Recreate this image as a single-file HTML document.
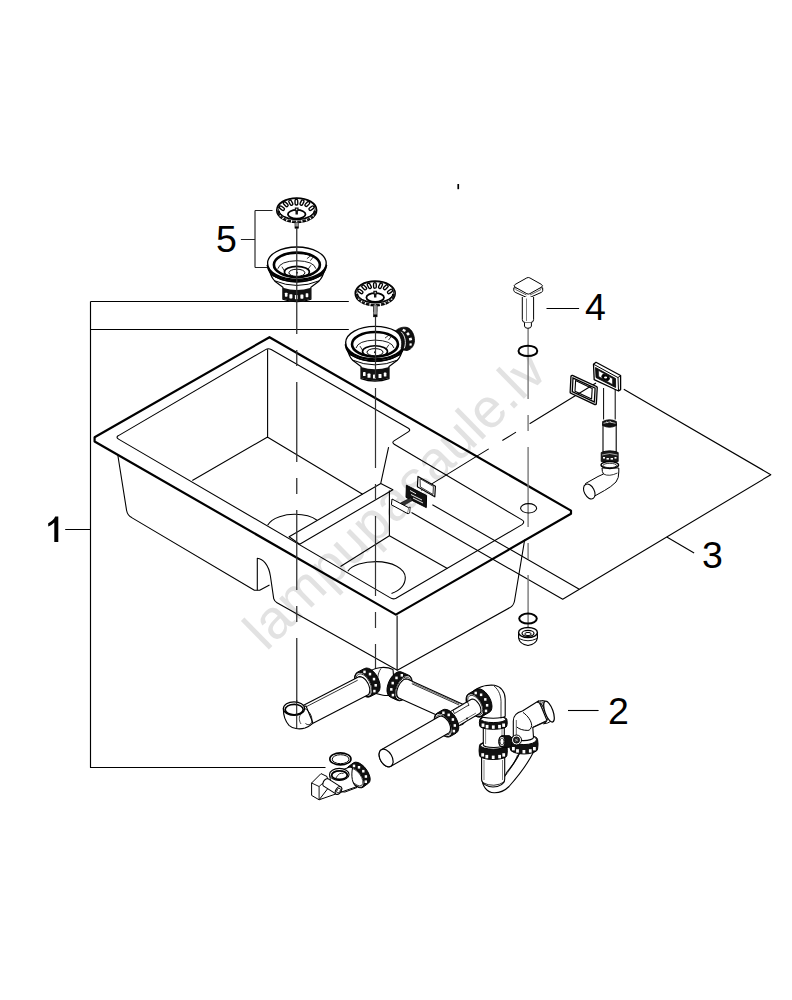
<!DOCTYPE html>
<html><head><meta charset="utf-8"><style>
html,body{margin:0;padding:0;background:#fff;}
body{width:792px;height:1000px;overflow:hidden;position:relative;}
svg{position:absolute;left:0;top:0;}
.t{font-family:"Liberation Sans",sans-serif;font-size:37.5px;fill:#000;}
.wm{font-family:"Liberation Sans",sans-serif;font-size:55px;fill:#e2e2e2;}
</style></head><body>
<svg width="792" height="1000" viewBox="0 0 792 1000">
<defs>
<g id="basket">
<ellipse cx="0" cy="0" rx="20" ry="12.3" fill="#fff" stroke="#000" stroke-width="1.5"/>
<path d="M-19.7 0A19.7 11.9 0 0 0 19.7 0L17.8 0.8A17.8 9.6 0 0 1 -17.8 0.8Z" fill="#111"/>
<rect x="14.29" y="4.77" width="3" height="1.1" transform="rotate(211.5 15.79 5.32)" fill="#fff"/>
<rect x="11.93" y="7.22" width="3" height="1.1" transform="rotate(233.9 13.43 7.77)" fill="#fff"/>
<rect x="8.26" y="9.17" width="3" height="1.1" transform="rotate(248.9 9.76 9.72)" fill="#fff"/>
<rect x="3.63" y="10.42" width="3" height="1.1" transform="rotate(260.2 5.13 10.97)" fill="#fff"/>
<rect x="-1.50" y="10.85" width="3" height="1.1" transform="rotate(270.0 0.00 11.40)" fill="#fff"/>
<rect x="-6.63" y="10.42" width="3" height="1.1" transform="rotate(-80.2 -5.13 10.97)" fill="#fff"/>
<rect x="-11.26" y="9.17" width="3" height="1.1" transform="rotate(-68.9 -9.76 9.72)" fill="#fff"/>
<rect x="-14.93" y="7.22" width="3" height="1.1" transform="rotate(-53.9 -13.43 7.77)" fill="#fff"/>
<rect x="-17.29" y="4.77" width="3" height="1.1" transform="rotate(-31.5 -15.79 5.32)" fill="#fff"/>
<path d="M-17.5 0.5A17.5 9 0 0 0 17.5 0.5" fill="none" stroke="#000" stroke-width="1.2"/>
<ellipse cx="0" cy="-1.4" rx="18.6" ry="10.4" fill="none" stroke="#000" stroke-width="0.9"/>
<rect x="-16.15" y="-4.80" width="2.7" height="5.6" rx="1.3" transform="rotate(-53.6 -14.80 -2.00)" fill="#fff" stroke="#000" stroke-width="1.35"/>
<rect x="-12.35" y="-8.81" width="2.7" height="5.6" rx="1.3" transform="rotate(-45.2 -11.00 -6.01)" fill="#fff" stroke="#000" stroke-width="1.35"/>
<rect x="-7.25" y="-10.30" width="2.7" height="5.6" rx="1.3" transform="rotate(-28.4 -5.90 -7.50)" fill="#fff" stroke="#000" stroke-width="1.35"/>
<rect x="-1.65" y="-10.80" width="2.7" height="5.6" rx="1.3" transform="rotate(-1.6 -0.30 -8.00)" fill="#fff" stroke="#000" stroke-width="1.35"/>
<rect x="3.95" y="-10.40" width="2.7" height="5.6" rx="1.3" transform="rotate(25.9 5.30 -7.60)" fill="#fff" stroke="#000" stroke-width="1.35"/>
<rect x="9.25" y="-8.99" width="2.7" height="5.6" rx="1.3" transform="rotate(44.2 10.60 -6.19)" fill="#fff" stroke="#000" stroke-width="1.35"/>
<rect x="13.45" y="-4.80" width="2.7" height="5.6" rx="1.3" transform="rotate(53.6 14.80 -2.00)" fill="#fff" stroke="#000" stroke-width="1.35"/>
<ellipse cx="0" cy="4.1" rx="8.8" ry="4.4" fill="#fff" stroke="#000" stroke-width="1.8"/>
<path d="M-1.9 -2.6h3.8v3.2l-0.7 0.8v2.8h-2.4v-2.8l-0.7-0.8z" fill="#111"/>
<rect x="-0.5" y="-1.5" width="1" height="1.5" fill="#fff"/>
<rect x="-1.75" y="12.2" width="3.5" height="5.8" fill="#999" stroke="#222" stroke-width="0.6"/>
<rect x="-1.75" y="16.3" width="3.5" height="1.8" fill="#000"/>
</g>
<g id="drainbody">
<path d="M-27.5 7Q-26 14 -22 18L-14 24V36Q0 41 14 36V24L22 18Q26 14 27.5 7Z" fill="#fff" stroke="#000" stroke-width="1.2"/>
<path d="M-14 24.5V35.5Q0 41 14 35.5V24.5Q0 29 -14 24.5Z" fill="#111"/>
<g fill="#fff"><rect x="-12" y="29.5" width="2.6" height="4" rx="0.6"/><rect x="-7.5" y="31" width="3" height="4.2" rx="0.6"/><rect x="-2" y="31.8" width="3" height="4.2" rx="0.6"/><rect x="3.5" y="31.3" width="3" height="4.2" rx="0.6"/><rect x="8.8" y="30" width="2.6" height="4" rx="0.6"/></g>
<path d="M-22.5 17.5Q0 27 22.5 17.5" fill="none" stroke="#000" stroke-width="1"/>
<path d="M-26 12Q0 24 26 12" fill="none" stroke="#000" stroke-width="1"/>
<ellipse cx="0" cy="2.6" rx="29.3" ry="16.2" fill="#fff" stroke="#000" stroke-width="1.3"/>
<path d="M-29.2 1.6A29.3 16.4 0 0 0 29.2 1.6" fill="none" stroke="#000" stroke-width="2.6"/>
<path d="M-28.5 5.5A28.8 15 0 0 0 28.5 5.5" fill="none" stroke="#000" stroke-width="1.4"/>
<ellipse cx="0" cy="0" rx="29.3" ry="16.2" fill="#fff" stroke="#000" stroke-width="1.3"/>
<ellipse cx="0" cy="1.6" rx="23" ry="12.2" fill="none" stroke="#000" stroke-width="2.6"/>
<path d="M-19 5.5Q-17 -2 0 -2.5Q17 -2 19 5.5" fill="none" stroke="#000" stroke-width="0.9"/>
<ellipse cx="0" cy="8.8" rx="12.5" ry="5.6" fill="none" stroke="#000" stroke-width="1.6"/>
<ellipse cx="0" cy="9.6" rx="8" ry="3.6" fill="#fff" stroke="#000" stroke-width="1"/>
<path d="M-15 3.5l3 5M14 2l-3.5 5" stroke="#000" stroke-width="0.8"/>
<path d="M10 -4.5l4.5 -3.5l2 1.5l-3 4" fill="none" stroke="#000" stroke-width="0.8"/>
<circle cx="0" cy="9.6" r="1" fill="#000"/>
</g>
</defs>
<g id="watermark">
<text class="wm" transform="translate(266.2,652) rotate(-44.5)">lampupasaule.lv</text>
</g>
<g fill="none" stroke="#000" stroke-width="1.1" stroke-linejoin="round" stroke-linecap="butt">
<!-- brackets and labels -->
<path d="M255 210.5V267.5" stroke="#000" stroke-width="1"/><path d="M255 210.5H272.5M255 267.5H267.6M240.9 239.5H255" stroke="#222" stroke-width="1.1"/>
<path d="M90.5 301.5V767.5H325.5M90.5 301.5H348.8M90.5 329.5H348.8M65.2 529.5H90.5" stroke-width="1.15"/>
<path d="M546.5 308.5H579.1"/>
<path d="M568 710.5H598.6"/>
<path d="M666.8 537L694.1 553"/>
<path d="M457.4 184h1.7v5.2h-1.7z" fill="#000" stroke="none"/>
<path d="M58.3 516.5H55.2C54 519.5 51 522 48.2 523.3V526.4C50.6 525.4 53 523.9 54.3 522.4V542H58.3Z" fill="#000" stroke="none"/>
<!-- bracket 3 -->
<path d="M623.8 389.2L770.8 474.7L562.7 599.3L411.5 512.4M579.3 589.3L432.4 504.7"/>
<!-- sink outer rim -->
<path d="M269.5 337.2L571 510.6V513.8L395.8 614.6L94.6 441.5V437.3Z" stroke-width="2.2"/>
<!-- inner rim -->
<path d="M118.5 435.6L265.6 349.6Q268.4 348 271.2 349.6L408.4 428.3Q411 430 408.6 431.6L394 440.9Q391.6 442.6 394.2 444.2L522 519.9Q525.5 521.9 522 524.6L396 598.2Q393 599.7 390 597.6L118.5 439.1Q115.5 437.3 118.5 435.6Z"/>
<!-- bowl1 interior -->
<path d="M267.6 349.3V437L192.3 480.6M267.3 437L362.6 494.2M388.6 447.1L380.8 483.2"/>
<!-- divider -->
<path d="M289.1 536.7L380.8 483.6L392.9 489.7L299.7 544.2Z"/>
<!-- bowl2 interior -->
<path d="M389.4 490.5V535.8L340.5 566.5M389.4 535.8L447.4 568.4"/>
<!-- drains -->
<path d="M267.6 525.3C272 517 286 514.2 295 514.3C304 514.4 312 516.5 317 520.3"/>
<path d="M347.8 571.2C352 565 364 561.6 376.3 561.6C392 561.6 405.3 568.5 405.3 577.6C405.3 585 399.5 590.6 391.5 593.6"/>
<!-- bowl front face -->
<path d="M117.8 455L126.6 510.5Q127.6 515.5 131.7 517.6L254.4 590.2H259.7L269.5 585"/>
<path d="M257.3 590.2V558.2C263 558.8 268.7 565 270.4 576L273.7 598.6Q274.5 601.3 277 602.7L397.3 670.3L510 607.6Q513.7 605.4 514.5 601L524.7 539.5"/>
<path d="M397.1 615.5V670.3"/>
<!-- left corner rim thickness -->

</g>
<!-- strainers -->
<use href="#basket" x="296.7" y="210.2"/>
<use href="#basket" x="375.2" y="293.4"/>
<use href="#drainbody" x="296.9" y="263.2"/>
<use href="#drainbody" x="375" y="342.6"/>
<!-- axes -->
<g fill="none" stroke-width="1.1">
<path d="M296.75 228V334" stroke="#333" stroke-width="1.3"/>
<path d="M296.75 350V728" stroke="#333" stroke-width="1.3" stroke-dasharray="16 16 80 16"/>
<path d="M375.5 316V378" stroke="#333" stroke-width="1.2"/>
<path d="M375.5 388V676" stroke="#333" stroke-width="1.2" stroke-dasharray="80 16 16 16"/>
<path d="M528.1 328V646" stroke="#7a7a7a" stroke-width="1.4" stroke-dasharray="71 16 16 16 80 16 16 16 80 16 16 16 80"/>
</g>
<!-- basket2 longer stem -->
<rect x="373.5" y="305" width="3.6" height="11.8" fill="#999" stroke="#222" stroke-width="0.6"/>
<rect x="373.5" y="314.5" width="3.6" height="2.3" fill="#000"/>
<!-- drain2 overflow nozzle -->
<g>
<path d="M395.5 331C398.5 327.8 403.5 326.4 407.5 327.6C411.8 329.2 414.6 335 414.5 340.6C414.4 345.2 411.6 349.6 407 350.5C404.8 350.8 402.6 349.6 401 348.3C403 343 401 335 395.5 331Z" fill="#111" stroke="#000" stroke-width="0.8"/>
<path d="M401.2 331.8C405 335.5 406.6 342.5 404.3 348.3" fill="none" stroke="#fff" stroke-width="0.9"/>
<g fill="#fff">
<rect x="402.6" y="329.2" width="3" height="2.2" transform="rotate(25 404.1 330.3)"/>
<rect x="406.6" y="332.6" width="2.8" height="2.6" transform="rotate(50 408 333.9)"/>
<rect x="409.2" y="337.8" width="2.6" height="2.8" transform="rotate(75 410.5 339.2)"/>
<rect x="409.4" y="343.4" width="2.4" height="2.2" transform="rotate(100 410.6 344.5)"/>
</g>
</g>
<!-- button 4 -->
<g stroke="#000" stroke-width="1" fill="#fff">
<path d="M513.8 287.8L513.8 290.6Q514 291.6 515.2 292.3L526.5 297.4Q528.3 298.2 530.1 297.4L541.5 292.3Q542.7 291.6 542.7 290.6L542.7 287.8Z"/>
<path d="M526.8 277.9Q528.3 277.1 529.8 277.9L541.4 284.4Q543.6 285.8 541.4 287.2L529.8 293.7Q528.3 294.5 526.8 293.7L515.2 287.2Q513 285.8 515.2 284.4Z"/>
<path d="M515.5 289.5L526.5 295M530 295L541 289.5" stroke-width="0.6"/>
<path d="M522.3 297V319.5Q522.3 322.3 525 322.5H531Q533.6 322.3 533.6 319.5V297" />
<path d="M524.5 322.5V326Q524.6 328.2 527.9 328.3Q531.3 328.2 531.4 326V322.5"/>
<path d="M526.5 298.5V321" stroke-width="0.5"/>
</g>
<!-- O-rings -->
<ellipse cx="527.9" cy="350.9" rx="9.4" ry="5.2" fill="none" stroke="#000" stroke-width="2"/>
<ellipse cx="528" cy="618.6" rx="8.8" ry="5" fill="none" stroke="#000" stroke-width="2"/>
<g fill="none" stroke="#000">
<ellipse cx="340.4" cy="758.9" rx="10.6" ry="6" stroke-width="1.6"/>
<ellipse cx="340.6" cy="759.2" rx="8.4" ry="4.5" stroke-width="1"/>
</g>
<!-- nut bottom of axis 3 -->
<g stroke="#000" fill="#fff">
<path d="M518.6 632V638Q519.5 644 528 645.5Q536.5 644 537.4 638V632" stroke-width="1.2"/>
<ellipse cx="528" cy="632.5" rx="9.4" ry="5" stroke-width="1.4"/>
<ellipse cx="528" cy="633.3" rx="6" ry="3" stroke-width="1.2"/>
<ellipse cx="528" cy="634" rx="3.2" ry="1.6" stroke-width="1"/>
<path d="M519 638.5Q528 643 537 638.5" fill="none" stroke-width="0.9"/>
</g>
<path d="M596 383L421.2 490.4" fill="none" stroke="#000" stroke-width="1.05" stroke-dasharray="77.9 16 16 16 80"/>
<!-- overflow head (top right) -->
<g stroke="#000" stroke-linejoin="round">
<path d="M603.6 388V419.5M615.2 388V419.5" fill="none" stroke-width="1"/>
<path d="M593.5 364.2L596 362.3L620.6 375.5L620.6 389.6L618.5 391L594.2 379.6Z" fill="#fff" stroke-width="1.3"/>
<path d="M593.5 364.2L618 377.6L618.5 391M618 377.6L620.6 375.5" fill="none" stroke-width="1"/>
<path d="M595.5 367.5L615.5 378.5L615.6 387.5L596 377.5Z" fill="#111" stroke-width="0.8"/>
<path d="M598.5 370.5L612.5 378.5L612.5 384.5L598.7 376.5Z" fill="#fff" stroke-width="0.5"/>
<ellipse cx="605.6" cy="377.5" rx="4" ry="2.2" transform="rotate(28 605.6 377.5)" fill="#000"/>
<ellipse cx="605.6" cy="377.5" rx="1.6" ry="1" fill="#fff" stroke="none"/>
</g>
<!-- overflow gasket -->
<g fill="none" stroke="#000" stroke-linejoin="round">
<path d="M572 376.4L596.2 387.5L595.3 403.6L571.2 392.3Z" stroke-width="3.4"/>
<path d="M572 376.4L596.2 387.5L595.3 403.6L571.2 392.3Z" stroke="#fff" stroke-width="0.8"/>
<path d="M575.6 380.6L592.2 388.4L591.6 399L575 391.2Z" stroke-width="1.1"/>
</g>
<!-- overflow pipe -->
<g stroke="#000">
<rect x="603" y="424" width="13.2" height="28" fill="#fff" stroke-width="1.1"/>
<path d="M602.6 421.5Q609.5 418 616.4 421.5V425.5Q609.5 429 602.6 425.5Z" fill="#111" stroke-width="0.8"/>
<path d="M603.5 423.3Q609.5 420.5 615.5 423.3" fill="none" stroke="#fff" stroke-width="0.7"/>
<path d="M606 421.5l2 1.5M610 420.8l1.5 1.8" stroke="#fff" stroke-width="0.6"/>
<path d="M601.2 452.5Q609.6 449 618.2 452.5V461.5Q609.6 465 601.2 461.5Z" fill="#1a1a1a" stroke-width="0.8"/>
<path d="M602 455Q609.6 452 617.5 455" fill="none" stroke="#fff" stroke-width="0.6"/>
<g fill="#fff" stroke="none"><rect x="603" y="457" width="2" height="1.6"/><rect x="606.5" y="458" width="2.4" height="1.6"/><rect x="610.6" y="458" width="2.4" height="1.6"/><rect x="614.5" y="457" width="2" height="1.6"/></g>
<path d="M602 468Q602 472 603.5 474L598 476.5L585.5 483.5L592 497.5L604.5 490.5Q611 487 616 482Q619 478 618.8 472V468Z" fill="#fff" stroke-width="1"/>
<path d="M603.5 474Q609 477 617.5 473" fill="none" stroke="#000" stroke-width="0.8"/>
<ellipse cx="609.8" cy="465" rx="8.8" ry="3.4" fill="#fff" stroke-width="1.5"/>
<ellipse cx="609.8" cy="465.5" rx="6.8" ry="2.2" fill="none" stroke-width="0.8"/>
<ellipse cx="589.3" cy="491.5" rx="5" ry="8" transform="rotate(-28 589.3 491.5)" fill="#fff" stroke-width="1.1"/>
</g>
<!-- small overflow parts in sink -->
<g stroke="#000" stroke-linejoin="round">
<path d="M418 476.4L435.4 486.2L434.8 496.8L417.4 486.8Z" fill="#fff" stroke-width="1.2"/>
<path d="M420 478.6L433.4 486.4L433 494.5L420.3 486.9Z" fill="none" stroke-width="0.8"/>
<path d="M406.4 485.2L426.6 495.5L426.3 507.6L406 497.4Z" fill="#111" stroke-width="1"/>
<path d="M410 490.5L416 493.8M411 494.5L422 500M413 498L423 503" stroke="#fff" stroke-width="0.9"/>
<path d="M399.5 503.6L411 497.5L412.5 500.5L401.5 506.6Z" fill="#333" stroke-width="0.6"/>
<path d="M392 499L408.6 507.7L408 513.8L391.4 504.8Z" fill="#fff" stroke-width="1"/>
<path d="M408.6 507.7L410.2 507L409.7 513L408 513.8" fill="#fff" stroke-width="0.8"/>
</g>
<!-- dashed line from gasket -->

<!-- tap hole -->
<ellipse cx="528.6" cy="508.3" rx="8" ry="4.7" fill="none" stroke="#000" stroke-width="1.1"/>
<g stroke-linejoin="round">
<path d="M368 673C373 667.5 385 665.5 393 669.5L395 694C388 697 378 695.5 371 691Z" fill="#fff" stroke="#000" stroke-width="1.1"/>
<path d="M381 668.5C377.5 673 376.5 681 379 690" fill="none" stroke="#000" stroke-width="0.8"/>
<path d="M370.1 696.7 L377.2 693.0 L378.7 691.7 L379.7 689.6 L380.1 687.0 L379.9 683.9 L379.0 680.6 L377.6 677.3 L375.7 674.2 L373.5 671.6 L371.1 669.6 L368.7 668.4 L366.5 668.0 L364.5 668.5 L357.4 672.2 L355.9 673.5 L354.9 675.6 L354.5 678.2 L354.7 681.3 L355.6 684.6 L357.0 687.9 L358.9 691.0 L361.1 693.6 L363.5 695.6 L365.9 696.8 L368.1 697.2 L370.1 696.7Z" fill="#111" stroke="#000" stroke-width="1.0" />
<ellipse cx="363.7" cy="684.4" rx="13.10" ry="7.21" transform="rotate(-117.3 363.7 684.4)" fill="#fff" stroke="#000" stroke-width="1.0"/>
<ellipse cx="363.7" cy="684.4" rx="11.50" ry="6.33" transform="rotate(-117.3 363.7 684.4)" fill="none" stroke="#000" stroke-width="0.7"/>
<rect x="373.2" y="689.8" width="2.4" height="2.6" fill="#fff"/>
<rect x="374.5" y="684.0" width="2.4" height="2.6" fill="#fff"/>
<rect x="372.8" y="677.8" width="2.4" height="2.6" fill="#fff"/>
<rect x="368.8" y="672.8" width="2.4" height="2.6" fill="#fff"/>
<rect x="363.3" y="670.6" width="2.4" height="2.6" fill="#fff"/>
<path d="M306.7 726.6 L367.7 695.1 L368.8 694.1 L369.5 692.6 L369.8 690.6 L369.7 688.3 L369.0 685.9 L368.0 683.4 L366.6 681.2 L365.0 679.2 L363.2 677.8 L361.4 676.9 L359.8 676.6 L358.3 676.9 L297.3 708.4 L296.2 709.4 L295.5 710.9 L295.2 712.9 L295.3 715.2 L296.0 717.6 L297.0 720.1 L298.4 722.3 L300.0 724.3 L301.8 725.7 L303.6 726.6 L305.2 726.9 L306.7 726.6Z" fill="#fff" stroke="#000" stroke-width="1.1" />
<path d="M303.8 708.0L357.7 680.2" stroke="#000" stroke-width="0.8" fill="none"/>
<path d="M283.3 708.6C283.3 715 285 721 289 725.3C292.5 728.5 299 729.8 305 728C309 726.5 312 724.5 312.8 722.5L306 706Z" fill="#fff" stroke="#000" stroke-width="1.1"/>
<path d="M304.8 708.5C309.5 711 312.5 716.5 311.8 721.5C311 725 308 725.5 305.5 723.5" fill="none" stroke="#000" stroke-width="0.9"/>
<path d="M301 714C299 716 298.5 720 301 724" fill="none" stroke="#000" stroke-width="0.7"/>
<ellipse cx="294" cy="708.6" rx="10.6" ry="6.8" fill="#fff" stroke="#000" stroke-width="1.2"/>
<ellipse cx="294.2" cy="709.6" rx="9" ry="5.2" fill="none" stroke="#000" stroke-width="1.6"/>
<path d="M284 711.5Q294 718 304.3 711.5" fill="none" stroke="#000" stroke-width="0.8"/>
<path d="M390.3 697.1 L397.6 700.4 L399.5 700.8 L401.8 700.3 L404.1 698.9 L406.4 696.8 L408.5 694.1 L410.2 691.0 L411.4 687.6 L412.1 684.3 L412.2 681.2 L411.6 678.5 L410.5 676.5 L408.9 675.3 L401.6 672.0 L399.7 671.6 L397.4 672.1 L395.1 673.5 L392.8 675.6 L390.7 678.3 L389.0 681.4 L387.8 684.8 L387.1 688.1 L387.0 691.2 L387.6 693.9 L388.7 695.9 L390.3 697.1Z" fill="#111" stroke="#000" stroke-width="1.0" />
<ellipse cx="403.2" cy="687.8" rx="13.10" ry="7.21" transform="rotate(-65.7 403.2 687.8)" fill="#fff" stroke="#000" stroke-width="1.0"/>
<ellipse cx="403.2" cy="687.8" rx="11.50" ry="6.33" transform="rotate(-65.7 403.2 687.8)" fill="none" stroke="#000" stroke-width="0.7"/>
<rect x="391.7" y="693.8" width="2.4" height="2.6" fill="#fff"/>
<rect x="390.1" y="688.1" width="2.4" height="2.6" fill="#fff"/>
<rect x="391.5" y="681.8" width="2.4" height="2.6" fill="#fff"/>
<rect x="395.3" y="676.6" width="2.4" height="2.6" fill="#fff"/>
<rect x="400.6" y="674.0" width="2.4" height="2.6" fill="#fff"/>
<path d="M398.8 697.9 L458.8 725.0 L460.1 725.2 L461.7 724.8 L463.3 723.7 L464.9 722.1 L466.4 720.1 L467.7 717.7 L468.6 715.2 L469.2 712.7 L469.3 710.5 L469.0 708.5 L468.3 707.1 L467.2 706.2 L407.2 679.1 L405.9 678.9 L404.3 679.3 L402.7 680.4 L401.1 682.0 L399.6 684.0 L398.3 686.4 L397.4 688.9 L396.8 691.4 L396.7 693.6 L397.0 695.6 L397.7 697.0 L398.8 697.9Z" fill="#fff" stroke="#000" stroke-width="1.1" />
<path d="M411.8 683.7L459.0 705.0" stroke="#000" stroke-width="0.8" fill="none"/>
<path d="M412.3 682.6L459.5 703.9" stroke="#000" stroke-width="0.6" fill="none"/>
<path d="M482 778C482 786 487 792.5 494 792.8C500 793 505 790.5 509 786.5C517 777.5 527 765 533.5 752L521 750C518 758 513 765 507 772L505 776Z" fill="#fff" stroke="#000" stroke-width="1.1"/>
<path d="M506 775C511 768 516 761 520 752.5M508 771C513 765 516 760 518.5 754M510 768C514 763 516 759 517.5 755" fill="none" stroke="#000" stroke-width="0.6"/>
<path d="M510.2 739.6 A13.7 5 0 0 1 537.6 739.6 Q538.5 744.3 537.6 749.0 A13.7 5 0 0 1 510.2 749.0 Q509.3 744.3 510.2 739.6Z" fill="#111" stroke="#000" stroke-width="1"/>
<ellipse cx="523.9" cy="739.6" rx="12.6" ry="5.0" fill="#fff" stroke="#000" stroke-width="1"/>
<rect x="512.0" y="747.0" width="2.8" height="3.4" fill="#fff"/>
<rect x="516.1" y="749.2" width="2.8" height="3.4" fill="#fff"/>
<rect x="522.5" y="750.0" width="2.8" height="3.4" fill="#fff"/>
<rect x="528.9" y="749.2" width="2.8" height="3.4" fill="#fff"/>
<rect x="533.0" y="747.0" width="2.8" height="3.4" fill="#fff"/>
<path d="M513.3 737.2V721C513.3 716 516.5 712.5 522.4 711L538.8 700.8L547.2 721L532.8 727.5L533.5 737.2A10.1 3.4 0 0 1 513.3 737.2Z" fill="#fff" stroke="#000" stroke-width="1.1"/>
<path d="M523 712.4C528 716 531.5 721 531.7 725.6C531 729 529.5 730.5 527.9 730.4C523 730.5 519 729 516.8 727" fill="none" stroke="#000" stroke-width="1"/>
<path d="M532.6 727.3L546 720.8" fill="none" stroke="#000" stroke-width="0.8"/>
<path d="M537.2 702.2C540 700.3 543.5 700 545.5 701.3L552 713C553.3 717 552 721.5 547.5 723L543.5 723.8C547.5 722 548.5 718 547.3 714L541 703.5Z" fill="#fff" stroke="#000" stroke-width="1"/>
<path d="M538.5 701.6L544.6 712.5M540 701L546.2 712M541.4 700.7L547.6 711.6M542.8 700.6L548.8 711.2" stroke="#222" stroke-width="0.7" fill="none"/>
<ellipse cx="549" cy="711.6" rx="4" ry="11" transform="rotate(-20 549 711.6)" fill="#fff" stroke="#000" stroke-width="1.2"/>
<path d="M516.3 740V720" fill="none" stroke="#000" stroke-width="0.6"/>
<path d="M481.6 756V779C481.6 784 488 787 493 787C499 787 504.7 784 504.7 779V756Z" fill="#fff" stroke="#000" stroke-width="1.1"/>
<path d="M484 760V780M502.5 760V780" stroke="#000" stroke-width="0.5"/>
<path d="M482.5 782.5Q494 788.5 505 781.5" fill="none" stroke="#000" stroke-width="0.8"/>
<path d="M479.5 745.4 A13.7 4 0 0 1 506.9 745.4 Q507.8 750.5 506.9 755.5 A13.7 4 0 0 1 479.5 755.5 Q478.6 750.5 479.5 745.4Z" fill="#111" stroke="#000" stroke-width="1"/>
<ellipse cx="493.2" cy="745.4" rx="12.6" ry="3.8" fill="#fff" stroke="#000" stroke-width="1"/>
<rect x="481.3" y="753.2" width="2.8" height="3.4" fill="#fff"/>
<rect x="485.4" y="754.9" width="2.8" height="3.4" fill="#fff"/>
<rect x="491.8" y="755.6" width="2.8" height="3.4" fill="#fff"/>
<rect x="498.2" y="754.9" width="2.8" height="3.4" fill="#fff"/>
<rect x="502.3" y="753.2" width="2.8" height="3.4" fill="#fff"/>
<path d="M483.3 727V745A10.5 2.5 0 0 0 504.3 745V727Z" fill="#fff" stroke="#000" stroke-width="1.1"/>
<path d="M485.6 729V744M502 729V744" stroke="#000" stroke-width="0.5"/>
<path d="M479.8 719.3 A13.5 3.3 0 0 1 506.8 719.3 Q507.7 722.6 506.8 726.0 A13.5 3.3 0 0 1 479.8 726.0 Q478.9 722.6 479.8 719.3Z" fill="#111" stroke="#000" stroke-width="1"/>
<ellipse cx="493.3" cy="719.3" rx="12.4" ry="3.3" fill="#fff" stroke="#000" stroke-width="1"/>
<rect x="481.6" y="723.5" width="2.8" height="3.4" fill="#fff"/>
<rect x="485.7" y="724.9" width="2.8" height="3.4" fill="#fff"/>
<rect x="491.9" y="725.4" width="2.8" height="3.4" fill="#fff"/>
<rect x="498.1" y="724.9" width="2.8" height="3.4" fill="#fff"/>
<rect x="502.2" y="723.5" width="2.8" height="3.4" fill="#fff"/>
<path d="M470 695C476 687 486 684.5 494.5 685.3C501 686.5 505.2 692 505.2 699V716A11.9 2.2 0 0 1 481.3 716V712L474.5 707Z" fill="#fff" stroke="#000" stroke-width="1.1"/>
<path d="M494 686C499 690 501.5 696 501 705V718.5" fill="none" stroke="#000" stroke-width="0.8"/>
<path d="M481.7 716.7 L489.5 712.2 L490.9 710.9 L491.7 708.9 L492.0 706.3 L491.6 703.3 L490.7 700.2 L489.2 697.1 L487.3 694.3 L485.1 691.9 L482.7 690.1 L480.4 689.0 L478.2 688.8 L476.3 689.3 L468.5 693.8 L467.1 695.1 L466.3 697.1 L466.0 699.7 L466.4 702.7 L467.3 705.8 L468.8 708.9 L470.7 711.7 L472.9 714.1 L475.3 715.9 L477.6 717.0 L479.8 717.2 L481.7 716.7Z" fill="#111" stroke="#000" stroke-width="1.0" />
<ellipse cx="475.1" cy="705.2" rx="12.50" ry="6.88" transform="rotate(-119.9 475.1 705.2)" fill="#fff" stroke="#000" stroke-width="1.0"/>
<ellipse cx="475.1" cy="705.2" rx="10.90" ry="6.00" transform="rotate(-119.9 475.1 705.2)" fill="none" stroke="#000" stroke-width="0.7"/>
<rect x="484.8" y="709.6" width="2.4" height="2.6" fill="#fff"/>
<rect x="485.9" y="704.0" width="2.4" height="2.6" fill="#fff"/>
<rect x="484.1" y="698.1" width="2.4" height="2.6" fill="#fff"/>
<rect x="479.9" y="693.5" width="2.4" height="2.6" fill="#fff"/>
<rect x="474.5" y="691.7" width="2.4" height="2.6" fill="#fff"/>
<path d="M452.1 729.6 L479.6 713.5 L480.4 712.7 L480.9 711.5 L480.9 709.9 L480.6 708.1 L480.0 706.2 L479.0 704.3 L477.8 702.6 L476.5 701.1 L475.1 699.9 L473.7 699.2 L472.4 699.0 L471.4 699.3 L443.9 715.4 L443.1 716.2 L442.6 717.4 L442.6 719.0 L442.9 720.8 L443.5 722.7 L444.5 724.6 L445.7 726.3 L447.0 727.8 L448.4 729.0 L449.8 729.7 L451.1 729.9 L452.1 729.6Z" fill="#fff" stroke="#000" stroke-width="1.1" />
<path d="M453.6 726.2L475.9 713.1" stroke="#000" stroke-width="0.6" fill="none"/>
<path d="M453 710.5L465.5 703L467.5 702L469 705.3L467 706L454.5 713.5Z" fill="#fff" stroke="#000" stroke-width="0.8"/>
<circle cx="467" cy="718.5" r="0.9" fill="#000"/>
<path d="M450.1 736.6 L456.2 733.1 L457.6 731.7 L458.5 729.7 L458.8 727.1 L458.4 724.1 L457.4 720.9 L455.9 717.8 L454.0 714.9 L451.7 712.5 L449.3 710.6 L446.9 709.6 L444.7 709.3 L442.9 709.8 L436.8 713.3 L435.4 714.7 L434.5 716.7 L434.2 719.3 L434.6 722.3 L435.6 725.5 L437.1 728.6 L439.0 731.5 L441.3 733.9 L443.7 735.8 L446.1 736.8 L448.3 737.1 L450.1 736.6Z" fill="#111" stroke="#000" stroke-width="1.0" />
<ellipse cx="443.5" cy="724.9" rx="12.70" ry="6.99" transform="rotate(-119.9 443.5 724.9)" fill="#fff" stroke="#000" stroke-width="1.0"/>
<ellipse cx="443.5" cy="724.9" rx="11.10" ry="6.11" transform="rotate(-119.9 443.5 724.9)" fill="none" stroke="#000" stroke-width="0.7"/>
<rect x="452.7" y="729.8" width="2.4" height="2.6" fill="#fff"/>
<rect x="453.6" y="724.2" width="2.4" height="2.6" fill="#fff"/>
<rect x="451.7" y="718.2" width="2.4" height="2.6" fill="#fff"/>
<rect x="447.5" y="713.6" width="2.4" height="2.6" fill="#fff"/>
<rect x="442.2" y="711.5" width="2.4" height="2.6" fill="#fff"/>
<path d="M390.9 766.3 L448.3 733.3 L449.5 732.3 L450.2 730.7 L450.5 728.8 L450.4 726.6 L449.7 724.3 L448.7 722.0 L447.2 720.0 L445.6 718.3 L443.8 717.0 L441.9 716.3 L440.2 716.2 L438.7 716.7 L381.3 749.7 L380.1 750.7 L379.4 752.3 L379.1 754.2 L379.2 756.4 L379.9 758.7 L380.9 761.0 L382.4 763.0 L384.0 764.7 L385.8 766.0 L387.7 766.7 L389.4 766.8 L390.9 766.3Z" fill="#fff" stroke="#000" stroke-width="1.1" />
<ellipse cx="386.1" cy="758.0" rx="9.60" ry="5.95" transform="rotate(-119.9 386.1 758.0)" fill="#fff" stroke="#000" stroke-width="1.2"/>
<path d="M502.0 747.3 L509.0 747.3 L509.8 747.1 L510.6 746.5 L511.3 745.6 L511.8 744.4 L512.1 743.0 L512.2 741.5 L512.1 740.0 L511.8 738.6 L511.3 737.4 L510.6 736.5 L509.8 735.9 L509.0 735.7 L502.0 735.7 L501.2 735.9 L500.4 736.5 L499.7 737.4 L499.2 738.6 L498.9 740.0 L498.8 741.5 L498.9 743.0 L499.2 744.4 L499.7 745.6 L500.4 746.5 L501.2 747.1 L502.0 747.3Z" fill="#111" stroke="#000" stroke-width="1.0" />
<ellipse cx="502.0" cy="741.5" rx="5.10" ry="2.81" transform="rotate(-90.0 502.0 741.5)" fill="#fff" stroke="#000" stroke-width="1.0"/>
<ellipse cx="502.0" cy="741.5" rx="3.50" ry="1.93" transform="rotate(-90.0 502.0 741.5)" fill="none" stroke="#000" stroke-width="0.7"/>
<circle cx="516.5" cy="740" r="5" fill="#fff" stroke="#000" stroke-width="1"/>
<circle cx="516.5" cy="740" r="3.2" fill="#222" stroke="#000" stroke-width="0.6"/>
<path d="M515 739l3 2M517.5 738.5l-2 3" stroke="#fff" stroke-width="0.5"/>
<path d="M363.1 787.2 L368.7 783.0 L369.7 781.7 L370.2 779.7 L370.0 777.4 L369.2 774.7 L367.9 771.9 L366.1 769.1 L364.0 766.6 L361.7 764.6 L359.3 763.1 L357.1 762.3 L355.1 762.2 L353.5 762.8 L347.9 767.0 L346.9 768.3 L346.4 770.3 L346.6 772.6 L347.4 775.3 L348.7 778.1 L350.5 780.9 L352.6 783.4 L354.9 785.4 L357.3 786.9 L359.5 787.7 L361.5 787.8 L363.1 787.2Z" fill="#111" stroke="#000" stroke-width="1.0" />
<ellipse cx="355.5" cy="777.1" rx="11.90" ry="5.95" transform="rotate(-126.9 355.5 777.1)" fill="#fff" stroke="#000" stroke-width="1.0"/>
<ellipse cx="355.5" cy="777.1" rx="10.30" ry="5.15" transform="rotate(-126.9 355.5 777.1)" fill="none" stroke="#000" stroke-width="0.7"/>
<rect x="364.6" y="780.4" width="2.4" height="2.6" fill="#fff"/>
<rect x="364.7" y="775.2" width="2.4" height="2.6" fill="#fff"/>
<rect x="362.1" y="769.9" width="2.4" height="2.6" fill="#fff"/>
<rect x="357.8" y="766.0" width="2.4" height="2.6" fill="#fff"/>
<rect x="352.8" y="764.6" width="2.4" height="2.6" fill="#fff"/>
<path d="M329.5 774.5L331 784L336 791.5L345 792L357 787.5C352 784 351 776 352.5 768L350 767Z" fill="#fff" stroke="#000" stroke-width="1"/>
<path d="M319.1 799.8L357.2 786.5" fill="none" stroke="#000" stroke-width="1"/>
<ellipse cx="339.3" cy="774.4" rx="9.8" ry="6" fill="#fff" stroke="#000" stroke-width="1.1"/>
<ellipse cx="339.5" cy="775.2" rx="7.8" ry="4.3" fill="none" stroke="#000" stroke-width="1.8"/>
<path d="M336 778Q339 772 343.5 773.5" fill="none" stroke="#000" stroke-width="0.8"/>
<path d="M311.6 783L321 773.6L327 776.5L329 787L319.1 799.8L311.6 795.4Z" fill="#fff" stroke="#000" stroke-width="1"/>
<path d="M311.6 783L319.1 786.5L319.1 799.8M319.1 786.5L327.5 779" fill="none" stroke="#000" stroke-width="0.9"/>
<path d="M323.7 786.1 L336.2 794.1 L336.8 794.4 L337.6 794.3 L338.4 794.0 L339.2 793.5 L340.0 792.8 L340.7 791.9 L341.2 790.9 L341.5 789.9 L341.7 788.9 L341.6 788.1 L341.3 787.4 L340.8 786.9 L328.3 778.9 L327.7 778.6 L326.9 778.7 L326.1 779.0 L325.3 779.5 L324.5 780.2 L323.8 781.1 L323.3 782.1 L323.0 783.1 L322.8 784.1 L322.9 784.9 L323.2 785.6 L323.7 786.1Z" fill="#fff" stroke="#000" stroke-width="1.1" />
<ellipse cx="338.5" cy="790.5" rx="4.30" ry="2.58" transform="rotate(-57.4 338.5 790.5)" fill="#fff" stroke="#000" stroke-width="1"/>
<ellipse cx="338.6" cy="790.6" rx="2.60" ry="1.56" transform="rotate(-57.4 338.6 790.6)" fill="none" stroke="#000" stroke-width="0.8"/>
<path d="M296.7 700V728.5" stroke="#222" stroke-width="1.1" fill="none"/>
</g>
<g class="t">
<text x="216" y="251.5" class="t">5</text>
<text x="585" y="320" class="t">4</text>
<text x="702" y="567.5" class="t">3</text>
<text x="608" y="724.2" class="t">2</text>
</g>
</svg>
</body></html>
